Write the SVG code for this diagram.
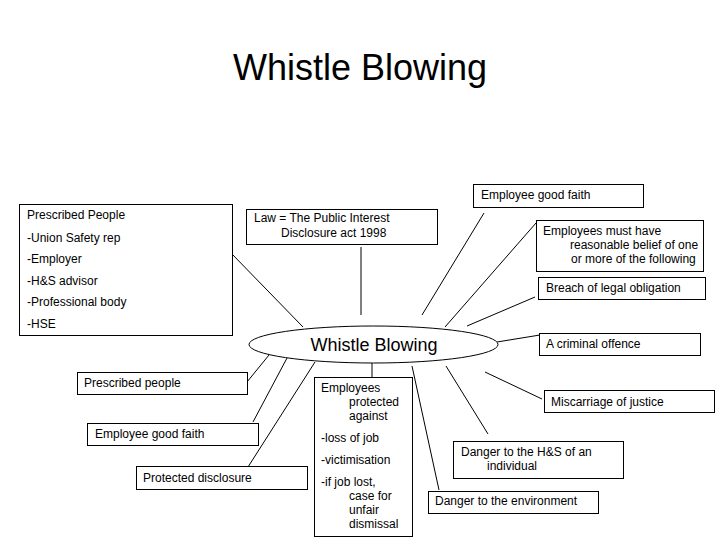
<svg xmlns="http://www.w3.org/2000/svg" width="720" height="540" viewBox="0 0 720 540">
<style>
text{font-family:"Liberation Sans",Arial,sans-serif;fill:#000}
.t{font-size:12px}
.box{fill:#fff;stroke:#000;stroke-width:1}
.c line{stroke:#000;stroke-width:1}
</style>
<rect width="720" height="540" fill="#fff"/>
<text x="360" y="80" font-size="36" text-anchor="middle">Whistle Blowing</text>
<g class="c" id="connectors">
<line x1="231" y1="253" x2="303" y2="327"/>
<line x1="361" y1="247" x2="361" y2="315"/>
<line x1="484" y1="213" x2="422" y2="315"/>
<line x1="536" y1="223" x2="445" y2="327"/>
<line x1="535" y1="297" x2="467" y2="326"/>
<line x1="497" y1="342" x2="540" y2="335"/>
<line x1="247" y1="382" x2="269" y2="355"/>
<line x1="253" y1="422" x2="287" y2="358"/>
<line x1="248" y1="467" x2="315" y2="362"/>
<line x1="372" y1="363" x2="372" y2="377"/>
<line x1="412" y1="366" x2="439" y2="490"/>
<line x1="446" y1="366" x2="488" y2="434"/>
<line x1="485" y1="372" x2="542" y2="399"/>
</g>
<g id="center">
<ellipse cx="373.5" cy="344.5" rx="124.5" ry="18.5" class="box"/>
<text x="374" y="351" font-size="18" text-anchor="middle">Whistle Blowing</text>
</g>
<g id="prescribed-top">
<rect x="19.5" y="204.5" width="213" height="131" class="box"/>
<text class="t" x="27" y="219">Prescribed People</text>
<text class="t" x="27" y="242">-Union Safety rep</text>
<text class="t" x="27" y="263">-Employer</text>
<text class="t" x="27" y="285">-H&amp;S advisor</text>
<text class="t" x="27" y="306">-Professional body</text>
<text class="t" x="27" y="328">-HSE</text>
</g>
<g id="law">
<rect x="246.5" y="209.5" width="191" height="35" class="box"/>
<text class="t" x="254" y="222">Law = The Public Interest</text>
<text class="t" x="281" y="237">Disclosure act 1998</text>
</g>
<g id="good-faith-top">
<rect x="473.5" y="184.5" width="170" height="23" class="box"/>
<text class="t" x="481" y="199">Employee good faith</text>
</g>
<g id="must-have">
<rect x="536.5" y="220.5" width="167" height="51" class="box"/>
<text class="t" x="543" y="235">Employees must have</text>
<text class="t" x="570" y="249">reasonable belief of one</text>
<text class="t" x="571" y="263">or more of the following</text>
</g>
<g id="breach">
<rect x="538.5" y="277.5" width="167" height="22" class="box"/>
<text class="t" x="546" y="292">Breach of legal obligation</text>
</g>
<g id="criminal">
<rect x="539.5" y="333.5" width="161" height="22" class="box"/>
<text class="t" x="546" y="348">A criminal offence</text>
</g>
<g id="miscarriage">
<rect x="544.5" y="390.5" width="170" height="22" class="box"/>
<text class="t" x="551" y="406">Miscarriage of justice</text>
</g>
<g id="danger-hs">
<rect x="453.5" y="441.5" width="170" height="37" class="box"/>
<text class="t" x="461" y="456">Danger to the H&amp;S of an</text>
<text class="t" x="487" y="470">individual</text>
</g>
<g id="danger-env">
<rect x="428.5" y="491.5" width="170" height="22" class="box"/>
<text class="t" x="435" y="505">Danger to the environment</text>
</g>
<g id="protected-against">
<rect x="314.5" y="377.5" width="98" height="159" class="box"/>
<text class="t" x="321" y="392">Employees</text>
<text class="t" x="349" y="406">protected</text>
<text class="t" x="349" y="420">against</text>
<text class="t" x="321" y="442">-loss of job</text>
<text class="t" x="321" y="464">-victimisation</text>
<text class="t" x="321" y="486">-if job lost,</text>
<text class="t" x="349" y="500">case for</text>
<text class="t" x="349" y="514">unfair</text>
<text class="t" x="349" y="528">dismissal</text>
</g>
<g id="prescribed-bottom">
<rect x="77.5" y="372.5" width="170" height="22" class="box"/>
<text class="t" x="84" y="387">Prescribed people</text>
</g>
<g id="good-faith-bottom">
<rect x="87.5" y="423.5" width="171" height="22" class="box"/>
<text class="t" x="95" y="438">Employee good faith</text>
</g>
<g id="protected-disclosure">
<rect x="136.5" y="466.5" width="171" height="23" class="box"/>
<text class="t" x="143" y="482">Protected disclosure</text>
</g>
</svg>
